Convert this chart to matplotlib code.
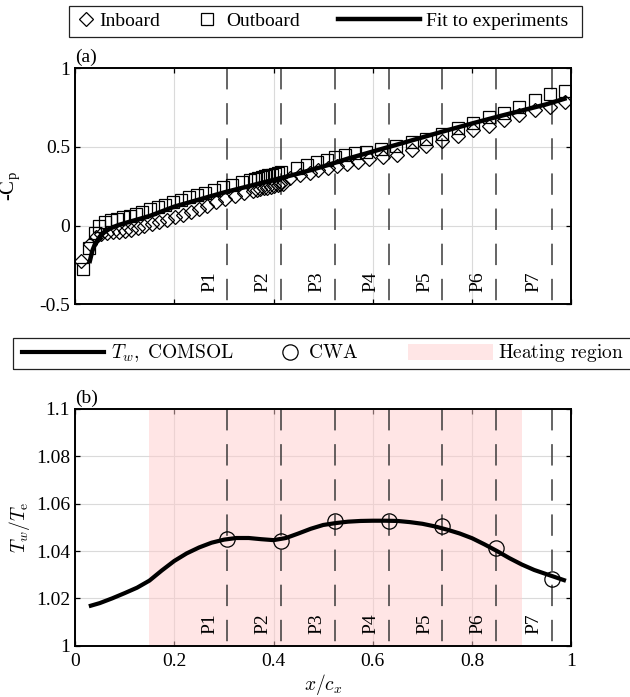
import matplotlib
matplotlib.use("Agg")
import matplotlib.pyplot as plt
from matplotlib.lines import Line2D
from matplotlib.patches import Patch, Rectangle

plt.rcParams["font.family"] = ["Liberation Serif", "DejaVu Serif"]
plt.rcParams["mathtext.fontset"] = "cm"
plt.rcParams["font.size"] = 14

# (a) pressure distribution, outboard taps
x_out = [0.0155, 0.029, 0.040, 0.049, 0.060, 0.0725, 0.085, 0.097, 0.111, 0.123,
         0.136, 0.151, 0.1665, 0.181, 0.197, 0.213, 0.230, 0.246, 0.262, 0.280,
         0.299, 0.317, 0.336, 0.352, 0.3625, 0.369, 0.376, 0.382, 0.389, 0.396,
         0.402, 0.409, 0.416, 0.4465, 0.468, 0.488, 0.507, 0.524, 0.544, 0.564,
         0.586, 0.616, 0.646, 0.678, 0.708, 0.740, 0.772, 0.801, 0.834, 0.864,
         0.894, 0.926, 0.957, 0.988]
cp_out = [-0.278, -0.141, -0.050, -0.005, 0.025, 0.036, 0.043, 0.052, 0.062, 0.074,
          0.088, 0.103, 0.118, 0.133, 0.149, 0.164, 0.180, 0.195, 0.208, 0.228,
          0.245, 0.260, 0.274, 0.291, 0.297, 0.302, 0.308, 0.313, 0.318, 0.323,
          0.328, 0.334, 0.340, 0.365, 0.386, 0.403, 0.418, 0.435, 0.447, 0.458,
          0.470, 0.485, 0.502, 0.528, 0.552, 0.580, 0.618, 0.650, 0.688, 0.717,
          0.755, 0.797, 0.835, 0.856]

# inboard taps
x_in = [0.013, 0.030, 0.042, 0.053, 0.064, 0.076, 0.088, 0.100, 0.113, 0.126,
        0.140, 0.155, 0.170, 0.185, 0.201, 0.217, 0.233, 0.249, 0.265, 0.285,
        0.302, 0.322, 0.340, 0.359, 0.366, 0.373, 0.380, 0.387, 0.394, 0.401,
        0.408, 0.414, 0.420, 0.434, 0.453, 0.473, 0.490, 0.510, 0.527, 0.548,
        0.570, 0.592, 0.620, 0.648, 0.678, 0.708, 0.740, 0.772, 0.801, 0.834,
        0.864, 0.894, 0.926, 0.957, 0.988]
cp_in = [-0.225, -0.115, -0.070, -0.055, -0.048, -0.044, -0.040, -0.034, -0.026, -0.016,
         -0.004, 0.008, 0.022, 0.036, 0.052, 0.068, 0.086, 0.104, 0.125, 0.150,
         0.170, 0.190, 0.205, 0.222, 0.226, 0.231, 0.236, 0.241, 0.246, 0.251,
         0.256, 0.261, 0.266, 0.300, 0.318, 0.335, 0.350, 0.365, 0.378, 0.390,
         0.405, 0.420, 0.435, 0.450, 0.478, 0.502, 0.534, 0.570, 0.608, 0.633,
         0.667, 0.703, 0.734, 0.755, 0.787]

# fitted curve
x_fit = [0.030, 0.035, 0.040, 0.050, 0.060, 0.070, 0.085, 0.100, 0.150, 0.200,
         0.250, 0.300, 0.350, 0.400, 0.450, 0.500, 0.550, 0.600, 0.650, 0.700,
         0.750, 0.800, 0.850, 0.900, 0.950, 0.986]
cp_fit = [-0.225, -0.160, -0.120, -0.070, -0.040, -0.020, 0.000, 0.015, 0.060, 0.120,
          0.165, 0.210, 0.250, 0.290, 0.330, 0.375, 0.425, 0.470, 0.515, 0.560,
          0.605, 0.648, 0.690, 0.730, 0.770, 0.805]

# (b) wall temperature ratio
x_comsol = [0.032, 0.050, 0.075, 0.100, 0.125, 0.150, 0.175, 0.200, 0.225, 0.250,
            0.275, 0.300, 0.325, 0.350, 0.375, 0.400, 0.425, 0.450, 0.475, 0.500,
            0.525, 0.550, 0.575, 0.600, 0.625, 0.650, 0.675, 0.700, 0.725, 0.750,
            0.775, 0.800, 0.825, 0.850, 0.875, 0.900, 0.925, 0.950, 0.985]
tw_comsol = [1.0169, 1.0180, 1.0200, 1.0222, 1.0245, 1.0275, 1.0318, 1.0358, 1.0390, 1.0415,
             1.0435, 1.0448, 1.0455, 1.0455, 1.0450, 1.0446, 1.0455, 1.0474, 1.0494, 1.0510,
             1.0518, 1.0524, 1.0527, 1.0528, 1.0528, 1.0527, 1.0522, 1.0515, 1.0504, 1.0490,
             1.0474, 1.0454, 1.0428, 1.0400, 1.0370, 1.0343, 1.0320, 1.0302, 1.0277]

probe_names = ["P1", "P2", "P3", "P4", "P5", "P6", "P7"]
x_probe = [0.307, 0.415, 0.524, 0.632, 0.740, 0.848, 0.960]
tw_cwa = [1.0451, 1.0441, 1.0528, 1.0525, 1.0507, 1.0413, 1.0282]
heat_start, heat_end = 0.15, 0.90

fig = plt.figure(figsize=(6.3, 6.97), dpi=100)
ax1 = fig.add_axes([0.119, 0.5634, 0.788, 0.339])
ax2 = fig.add_axes([0.119, 0.0736, 0.788, 0.3396])


def style(ax):
    ax.set_xlim(0, 1)
    ax.set_xticks([0, 0.2, 0.4, 0.6, 0.8, 1])
    ax.grid(True, color="#dadada", lw=0.8)
    ax.set_axisbelow(True)
    ax.tick_params(direction="in", top=True, right=True, length=3.3, width=0.9)
    ax.tick_params(axis="x", pad=5)
    for s in ax.spines.values():
        s.set_linewidth(1.4)


def probes(ax):
    for xp, name in zip(x_probe, probe_names):
        ax.plot([xp, xp], [1, 0], transform=ax.get_xaxis_transform(),
                color="#3a3a3a", lw=1.1, ls=(0, (14, 9)), zorder=2)
        ax.text(xp - 0.036, 0.05, name, transform=ax.get_xaxis_transform(),
                rotation=90, ha="center", va="bottom", zorder=3)


# panel (a)
style(ax1)
probes(ax1)
ax1.plot(x_in, cp_in, "D", mfc="none", mec="k", ms=7.6, mew=0.9, zorder=4)
ax1.plot(x_out, cp_out, "s", mfc="none", mec="k", ms=9, mew=0.9, zorder=4)
ax1.plot(x_fit, cp_fit, "k-", lw=3.2, zorder=5)
ax1.set_ylim(-0.5, 1)
ax1.set_yticks([-0.5, 0, 0.5, 1])
ax1.set_yticklabels(["-0.5", "0", "0.5", "1"])
ax1.set_xticklabels([])
ax1.set_ylabel("-C$_\\mathregular{p}$", labelpad=12, fontsize=15)
ax1.text(0, 1.01, "(a)", transform=ax1.transAxes, ha="left", va="bottom")

# panel (b)
style(ax2)
ax2.axvspan(heat_start, heat_end, color=(1, 0.8, 0.8), alpha=0.5, lw=0, zorder=0.9)
probes(ax2)
ax2.plot(x_comsol, tw_comsol, color="k", lw=3, zorder=4)
ax2.plot(x_probe, tw_cwa, "o", mfc="none", mec="k", ms=11, mew=0.9, zorder=5)
ax2.set_ylim(1, 1.1)
ax2.set_yticks([1, 1.02, 1.04, 1.06, 1.08, 1.1])
ax2.set_yticklabels(["1", "1.02", "1.04", "1.06", "1.08", "1.1"])
ax2.set_xticklabels(["0", "0.2", "0.4", "0.6", "0.8", "1"])
ax2.set_xlabel(r"$x/c_x$", labelpad=2)
ax2.set_ylabel(r"$T_w/T_\mathrm{e}$", labelpad=3)
ax2.text(0, 1.01, "(b)", transform=ax2.transAxes, ha="left", va="bottom")


def key(handle, label, x, y, hl, pad, hh=0.7):
    fig.legend([handle], [label], loc="center left", bbox_to_anchor=(x, y),
               frameon=False, borderpad=0, borderaxespad=0, handlelength=hl,
               handletextpad=pad, handleheight=hh, fontsize=14)


# legend row above (a)
ytop = 0.9692
key(Line2D([], [], marker="D", ls="none", mfc="none", mec="k", ms=7.6, mew=0.9),
    "Inboard", 0.1211, ytop, 1.0, 0.2)
key(Line2D([], [], marker="s", ls="none", mfc="none", mec="k", ms=9, mew=0.9),
    "Outboard", 0.3132, ytop, 1.0, 0.48)
key(Line2D([], [], color="k", lw=3.2), "Fit to experiments", 0.5365, ytop, 4.23, 0.31)
fig.add_artist(Rectangle((69 / 630, 1 - 37 / 697), (581.7 - 69) / 630, 31 / 697,
                         transform=fig.transFigure, fill=False, lw=0.9, ec="#222222"))

# legend row above (b)
ybot = 0.4930
key(Line2D([], [], color="k", lw=3), r"$T_w\mathrm{,\ COMSOL}$", 0.0344, ybot, 4.23, 0.35)
key(Line2D([], [], marker="o", ls="none", mfc="none", mec="k", ms=11, mew=0.9),
    r"$\mathrm{CWA}$", 0.4449, ybot, 1.0, 0.43)
key(Patch(facecolor=(1, 0.9, 0.9), edgecolor="none"), r"$\mathrm{Heating\ region}$",
    0.6476, ybot, 4.37, 0.27, hh=0.9)
fig.add_artist(Rectangle((13 / 630, 1 - 369 / 697), 1.0, 31.3 / 697,
                         transform=fig.transFigure, fill=False, lw=0.9, ec="#222222"))

fig.savefig("out.png", dpi=100)
